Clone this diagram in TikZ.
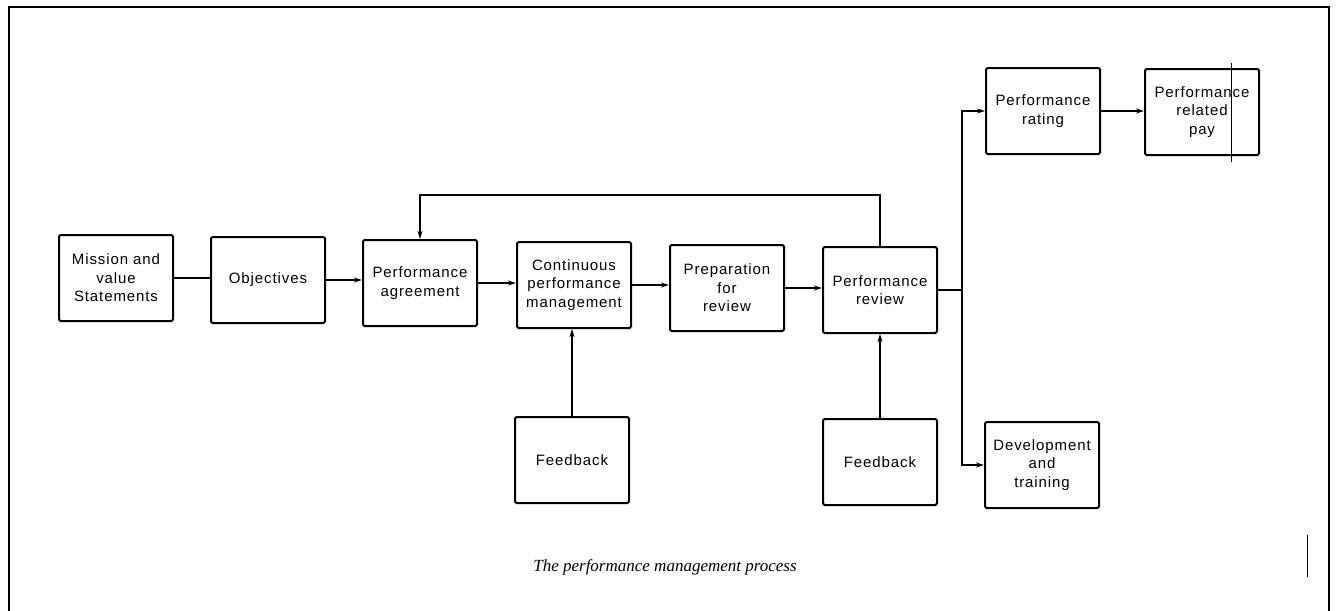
\documentclass[tikz,border=0pt]{standalone}
\usepackage{fontspec}
\usetikzlibrary{arrows.meta}
\newfontfamily\boxfont{Liberation Sans}[LetterSpace=6]
\newfontfamily\capfont{Liberation Serif}

\tikzset{
  stage/.style={draw, line width=2pt, rounded corners=1.5pt,
    minimum width=114pt, minimum height=86pt, inner sep=0pt,
    align=center, font=\boxfont\fontsize{15pt}{18.5pt}\selectfont},
  link/.style={line width=2pt},
  flow/.style={link, -{Stealth[length=8pt,width=5pt]}},
  frame/.style={line width=2.8pt},
  stray/.style={line width=0.7pt}
}

\begin{document}
\begin{tikzpicture}[x=1pt, y=-1pt]
  \useasboundingbox (0,0) rectangle (1337,610);
  \clip (0,0) rectangle (1337,610);

  % page frame, open below
  \draw[frame] (9,640) -- (9,7) -- (1329,7) -- (1329,640);

  % main chain
  \node[stage] (mission)     at (116,278) {Mission and\\value\\Statements};
  \node[stage] (objectives)  at (268,280) {Objectives};
  \node[stage] (agreement)   at (420,283) {Performance\\agreement};
  \node[stage] (continuous)  at (574,285) {Continuous\\performance\\management};
  \node[stage] (preparation) at (727,288) {Preparation\\for\\review};
  \node[stage] (review)      at (880,290) {Performance\\review};

  % feedback inputs
  \node[stage] (feedbackA)   at (572,460) {Feedback};
  \node[stage] (feedbackB)   at (880,462) {Feedback};

  % outcomes
  \node[stage] (rating)      at (1043,111) {Performance\\rating};
  \node[stage] (pay)         at (1202,112) {Performance\\related\\pay};
  \node[stage] (development) at (1042,465) {Development\\and\\training};

  % connectors along the chain
  \draw[link] (mission.east) -- (mission.east -| objectives.west);
  \draw[flow] (objectives.east) -- (objectives.east -| agreement.west);
  \draw[flow] (agreement.east) -- (agreement.east -| continuous.west);
  \draw[flow] (continuous.east) -- (continuous.east -| preparation.west);
  \draw[flow] (preparation.east) -- (preparation.east -| review.west);

  % review loops back to the agreement
  \draw[flow] (review.north) -- ++(0,-51) -| (agreement.north);

  % feedback into the chain
  \draw[flow] (feedbackA.north) -- (feedbackA.north |- continuous.south);
  \draw[flow] (feedbackB.north) -- (feedbackB.north |- review.south);

  % branch to rating and development
  \coordinate (branch) at (962,290);
  \draw[link] (review.east) -- (branch);
  \draw[flow] (branch) |- (rating.west);
  \draw[flow] (branch) |- (development.west);
  \draw[flow] (rating.east) -- (rating.east -| pay.west);

  % caption
  \node (caption) at (665,567) {\capfont\itshape\fontsize{17pt}{20pt}\selectfont The performance management process};

  % thin rules
  \draw[stray] (1231,63) -- (1231,162);
  \draw[stray] (1307,535) -- (1307,577);
\end{tikzpicture}
\end{document}
